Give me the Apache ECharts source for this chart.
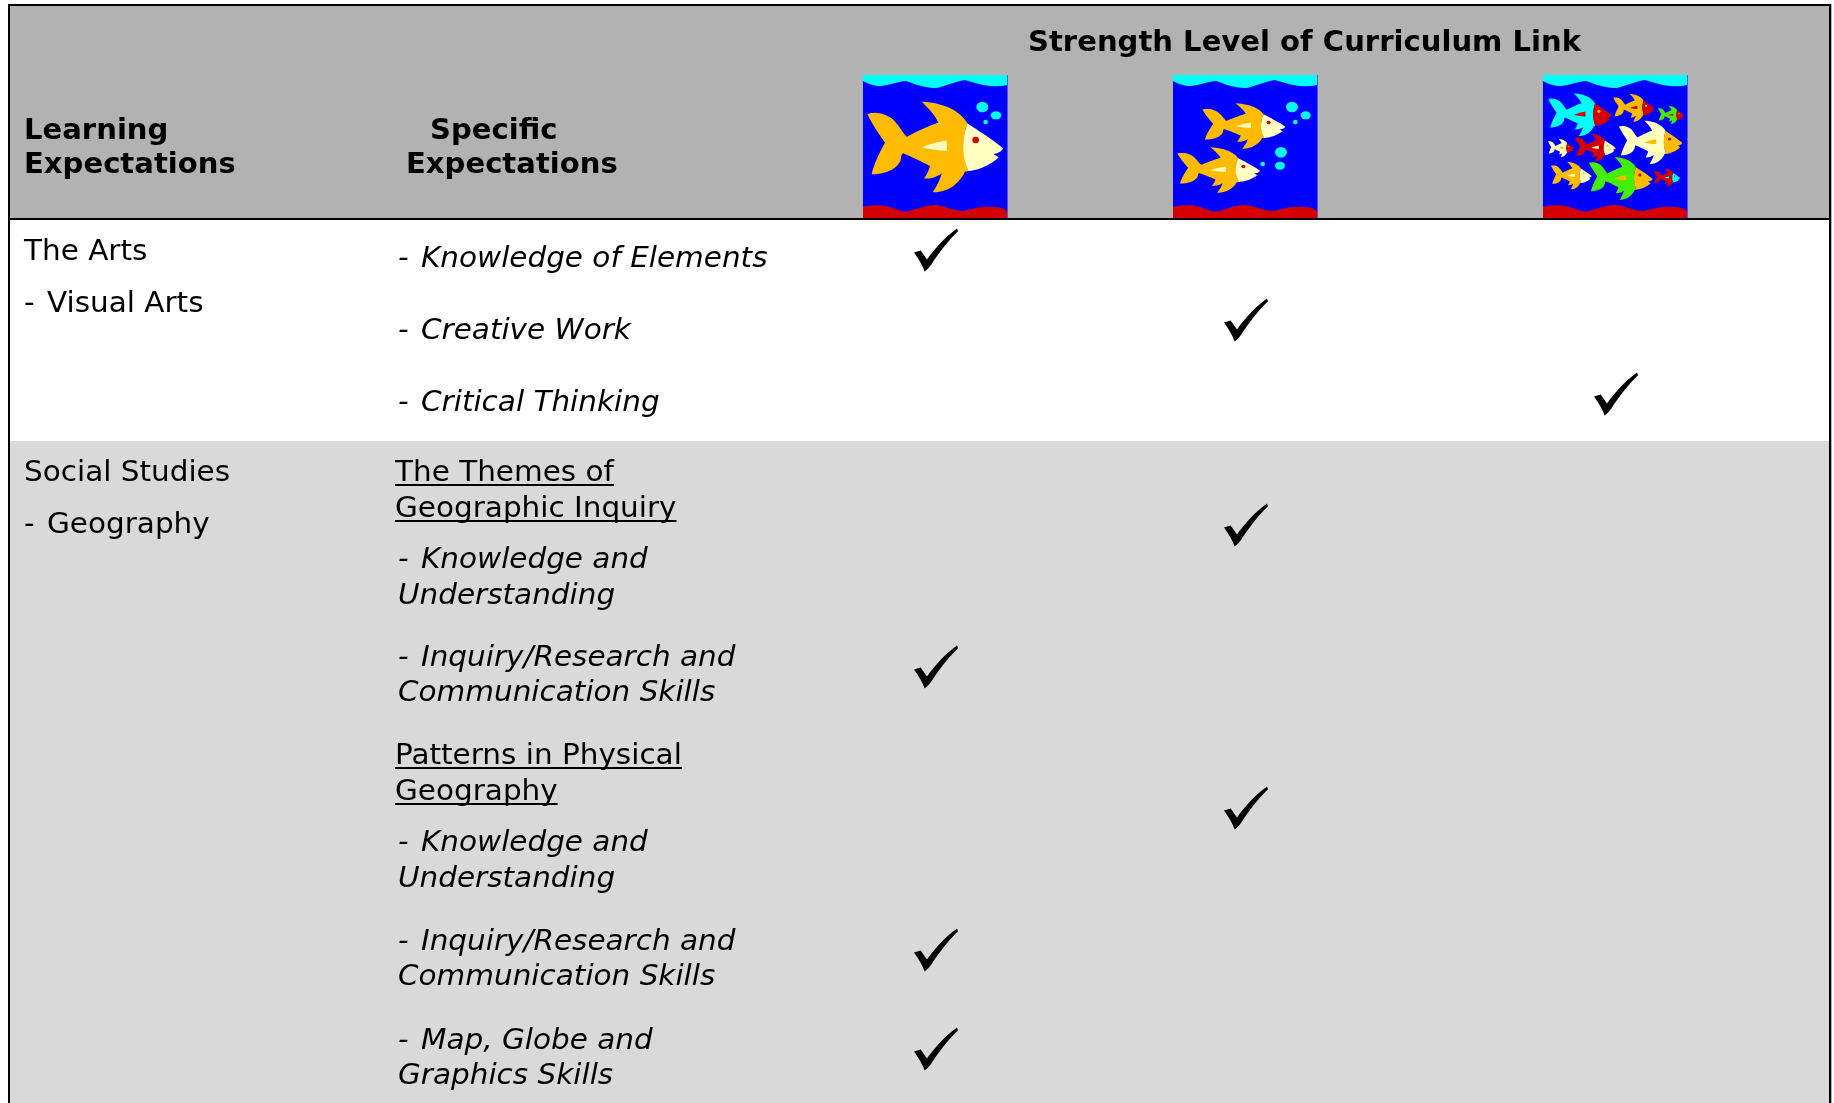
<!DOCTYPE html>
<html><head><meta charset="utf-8"><style>html,body{margin:0;padding:0;background:#fff}#c{width:1834px;height:1103px}</style>
<script src="https://cdn.jsdelivr.net/npm/echarts@6/dist/echarts.min.js"></script></head><body><div id="c"></div>
<script>
const headerTitle = 'Strength Level of Curriculum Link';
const columnTitles = [['Learning','Expectations'],['Specific','Expectations']];
const subjects = [['The Arts','- Visual Arts'],['Social Studies','- Geography']];
const themeHeadings = [['The Themes of','Geographic Inquiry'],['Patterns in Physical','Geography']];
const artsRows = ['- Knowledge of Elements','- Creative Work','- Critical Thinking'];
const geoRows = [['- Knowledge and','Understanding'],['- Inquiry/Research and','Communication Skills'],['- Knowledge and','Understanding'],['- Inquiry/Research and','Communication Skills'],['- Map, Globe and','Graphics Skills']];
const checkRows = ['Knowledge of Elements','Creative Work','Critical Thinking','Themes: Knowledge and Understanding','Themes: Inquiry/Research','Patterns: Knowledge and Understanding','Patterns: Inquiry/Research','Patterns: Map, Globe and Graphics'];
const checkLevels = [1,2,3,2,1,2,1,1];

// layout
const levelX = {1:936,2:1246,3:1616};
const rowY = [250,320,394,525,667,808,950,1049];
const FONT='"DejaVu Sans"';
const SZ=28.5, TX=1.034, TXB=1.02, DY=2.2;
const ORANGE='#ffbb00',IVORY='#ffffc0',RED='#d40000',CYAN='#00ffff',GREEN='#44ee00';

function poly(d){
  const tk=d.match(/[MLCHVZ]|-?[\d.]+/g);let i=0,cx=0,cy=0,cmd='';const pts=[];
  const num=()=>parseFloat(tk[i++]);
  while(i<tk.length){
    if(/[MLCHVZ]/.test(tk[i]))cmd=tk[i++];
    if(cmd==='Z')continue;
    if(cmd==='M'||cmd==='L'){cx=num();cy=num();pts.push([cx,cy]);}
    else if(cmd==='H'){cx=num();pts.push([cx,cy]);}
    else if(cmd==='V'){cy=num();pts.push([cx,cy]);}
    else if(cmd==='C'){
      const a=num(),b=num(),c=num(),e=num(),f=num(),h=num();
      for(let k=1;k<=12;k++){const t=k/12,u=1-t;
        pts.push([u*u*u*cx+3*u*u*t*a+3*u*t*t*c+t*t*t*f,u*u*u*cy+3*u*u*t*b+3*u*t*t*e+t*t*t*h]);}
      cx=f;cy=h;
    }
  }
  return pts;
}
const bodyPts=poly('M52 162C75 155 100 158 125 175C145 192 155 215 170 230C200 215 235 198 265 188C255 165 235 145 215 125C270 128 325 145 352 190C335 240 338 290 355 333L345 335C325 375 290 398 248 397C260 378 270 360 275 340C262 350 240 358 222 355C230 345 236 332 240 318C215 305 185 290 160 280C150 283 155 300 150 305C135 332 100 342 65 343C70 315 90 275 105 248C85 220 65 190 52 162Z');
const headPts=poly('M352 190C390 215 430 240 459 265C458 272 445 280 430 282L446 292C425 312 390 330 355 333C335 290 335 240 352 190Z');
const finPts=poly('M215 262C240 252 265 245 290 242L291 272C265 272 240 268 215 262Z');
function fish(bx,by,bw,bh,body,head,fin,eye){
  const sx=bw/407, sy=bh/272;
  return {type:'group',x:bx-52*sx,y:by-125*sy,scaleX:sx,scaleY:sy,children:[
    {type:'polygon',shape:{points:bodyPts},style:{fill:body}},
    {type:'polygon',shape:{points:headPts},style:{fill:head}},
    {type:'polygon',shape:{points:finPts},style:{fill:fin}},
    {type:'circle',shape:{cx:377,cy:240,r:10},style:{fill:eye}}
  ]};
}
const Z1=(x,y,w,h,...c)=>fish(850+x/3,60+y/3,w/3,h/3,...c);
const Z2=(x,y,w,h,...c)=>fish(1520+x/3,60+y/3,w/3,h/3,...c);

function bubble(cx,cy,rx,ry){return {type:'group',x:850+cx/3,y:60+cy/3,scaleX:rx/3,scaleY:ry/3,children:[{type:'circle',shape:{cx:0,cy:0,r:1},style:{fill:CYAN}}]};}
const topPts=poly('M0 0H144V10C130 13 118 10 102 5C90 7 78 13 72 13C55 12 45 6 43 6C32 7 25 11 15 11C8 10 4 8 0 6Z');
const botPts=poly('M0 143V132C12 129 22 130 30 133C40 137 43 137 46 136C58 132 66 130 72 130C82 131 92 136 101 136C112 133 118 131 130 132C136 132 141 133 144 136V143Z');
function tank(x){
  return {type:'group',x:x,y:75,children:[
    {type:'rect',shape:{x:0,y:0,width:144.5,height:143},style:{fill:'#0000ff'}},
    {type:'polygon',shape:{points:topPts},style:{fill:CYAN}},
    {type:'polygon',shape:{points:botPts},style:{fill:RED}}
  ]};
}
function one(x,y,t,o,sc){return {type:'text',x:x,y:y+DY,scaleX:sc,z:5,style:{text:t,fill:'#000',font:(o.i?'italic ':'')+(o.b?'bold ':'')+SZ+'px '+FONT,verticalAlign:'middle',align:'left'}};}
function txt(x,y,t,o){
  o=o||{};const sc=o.b?TXB:TX;
  if(t.startsWith('- ')){g.push(one(x,y,'-',o,sc));return one(x+23,y,t.slice(2),o,sc);}
  return one(x,y,t,o,sc);
}
const mc=document.createElement('canvas').getContext('2d');
function under(x,y,t){mc.font=SZ+'px '+FONT;const w=mc.measureText(t).width*TX;return {type:'rect',z:5,shape:{x:x,y:y+13,width:w,height:2},style:{fill:'#000'}};}

const g=[];
g.push({type:'rect',shape:{x:8,y:5,width:1822,height:214},style:{fill:'#b2b2b2'}});
g.push({type:'rect',shape:{x:8,y:441,width:1822,height:662},style:{fill:'#d9d9d9'}});
g.push({type:'rect',z:6,shape:{x:8,y:4,width:1823,height:2},style:{fill:'#000'}});
g.push({type:'rect',z:6,shape:{x:8,y:218,width:1823,height:2},style:{fill:'#000'}});
g.push({type:'rect',z:6,shape:{x:8,y:4,width:2,height:1099},style:{fill:'#000'}});
g.push({type:'rect',z:6,shape:{x:1829,y:4,width:2.3,height:1099},style:{fill:'#000'}});

g.push(txt(1028,41,headerTitle,{b:1}));
g.push(txt(24,129,columnTitles[0][0],{b:1}),txt(24,163,columnTitles[0][1],{b:1}));
g.push(txt(430,129,columnTitles[1][0],{b:1}),txt(406,163,columnTitles[1][1],{b:1}));
g.push(txt(24,250,subjects[0][0]),txt(24,302,subjects[0][1]));
g.push(txt(24,471,subjects[1][0]),txt(24,523,subjects[1][1]));
[257,329,401].forEach((y,i)=>g.push(txt(398,y,artsRows[i],{i:1})));
[[471,507],[754,790]].forEach((ys,k)=>ys.forEach((y,i)=>{const t=themeHeadings[k][i];g.push(txt(395,y,t),under(395,y,t));}));
[[558,594],[656,691],[841,877],[940,975],[1039,1074]].forEach((ys,k)=>ys.forEach((y,i)=>g.push(txt(398,y,geoRows[k][i],{i:1}))));

// tanks and fish
g.push(tank(863),tank(1173),tank(1543));
g.push(Z1(52,125,407,272,ORANGE,IVORY,IVORY,RED));
g.push(bubble(397,141,18,16),bubble(438,166,16,12),bubble(407,186,7,7));
g.push(Z1(1057,130,249,136,ORANGE,IVORY,IVORY,RED),Z1(982,262,248,136,ORANGE,IVORY,IVORY,RED));
g.push(bubble(1326,141,18,16),bubble(1367,166,15,12),bubble(1336,186,7,7),bubble(1293,277,18,16),bubble(1290,317,15,12),bubble(1238,312,7,7));
g.push(
 Z2(85,100,190,128,CYAN,RED,RED,ORANGE),
 Z2(280,102,123,83,ORANGE,RED,RED,IVORY),
 Z2(414,138,78,54,GREEN,RED,RED,ORANGE),
 Z2(297,182,190,130,IVORY,ORANGE,ORANGE,RED),
 Z2(84,237,78,54,IVORY,RED,ORANGE,ORANGE),
 Z2(165,222,122,82,RED,IVORY,IVORY,ORANGE),
 Z2(93,306,122,82,ORANGE,IVORY,IVORY,ORANGE),
 Z2(207,291,191,128,GREEN,ORANGE,ORANGE,RED),
 Z2(401,326,79,54,RED,CYAN,CYAN,RED)
);

const checkData=checkLevels.map((lv,i)=>({name:checkRows[i],value:[levelX[lv],rowY[i],lv]}));
const chart=echarts.init(document.getElementById('c'),null,{renderer:'canvas',width:1834,height:1103});
chart.setOption({
  animation:false,backgroundColor:'#fff',
  grid:{left:0,right:0,top:0,bottom:0},
  xAxis:{type:'value',min:0,max:1834,show:false},
  yAxis:{type:'value',min:0,max:1103,inverse:true,show:false},
  graphic:{elements:g},
  series:[{type:'scatter',z:10,silent:true,symbol:'path://M193 575L213 569L232 595C250 570 285 530 322 505L325 513C295 540 265 580 245 610C238 620 232 625 225 630C218 612 208 595 193 575Z',symbolSize:[44,43],itemStyle:{color:'#000',opacity:1},data:checkData}]
});
</script></body></html>
